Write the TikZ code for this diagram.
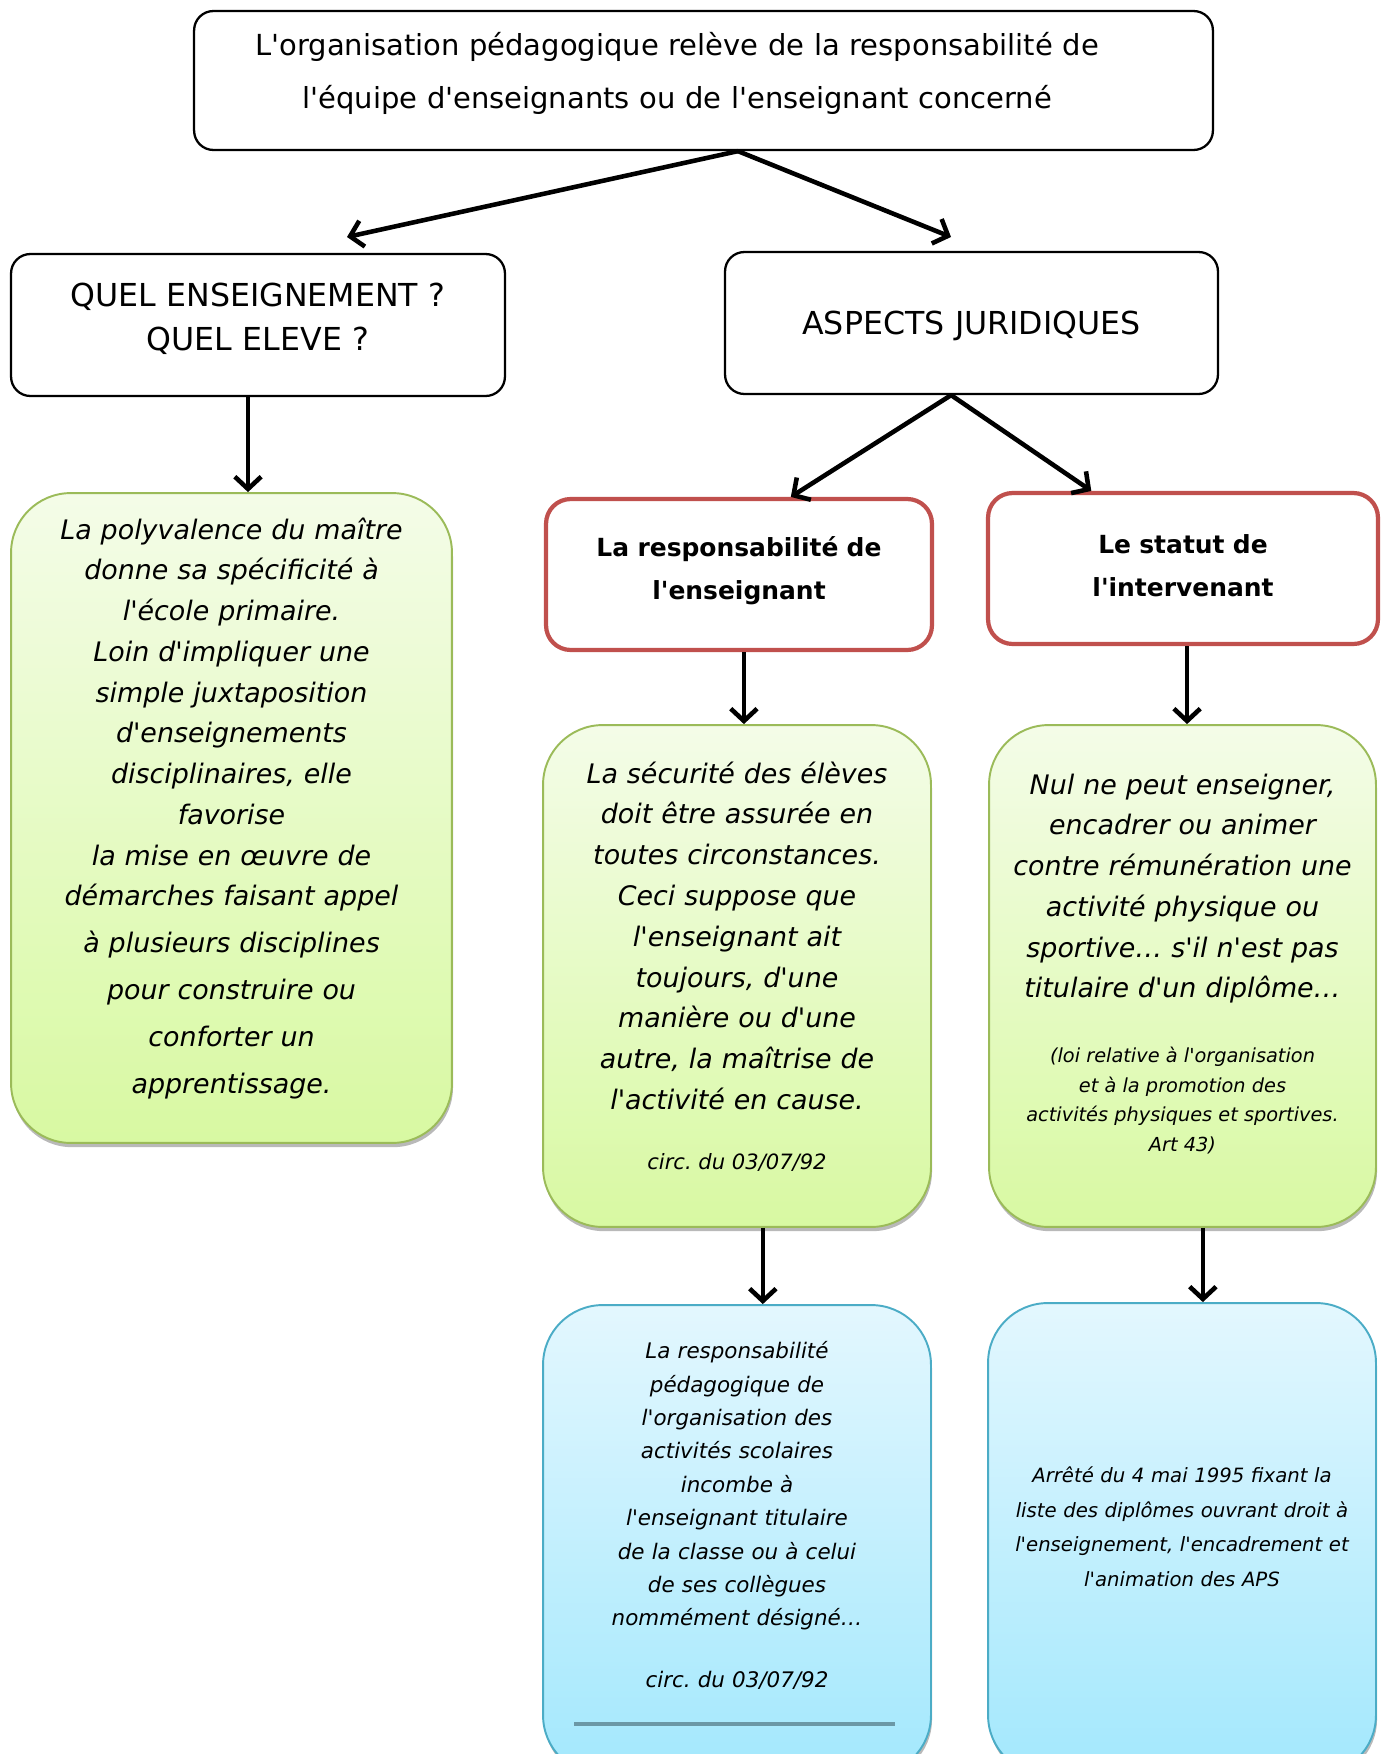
\documentclass[tikz,border=0pt]{standalone}
\usepackage{fontspec}
\setmainfont{DejaVu Sans}[Ligatures=TeXOff]
\usetikzlibrary{arrows.meta,shadows,calc}
\frenchspacing
\definecolor{redline}{HTML}{C0504D}
\definecolor{greenline}{HTML}{9BBB59}
\definecolor{greentop}{HTML}{F4FCE8}
\definecolor{greenbot}{HTML}{D8F9A2}
\definecolor{blueline}{HTML}{4BACC6}
\definecolor{bluetop}{HTML}{E3F7FE}
\definecolor{bluebot}{HTML}{A3E8FD}
\definecolor{rulecol}{HTML}{6B98A6}
\newcommand{\notefont}[2]{\fontsize{#1}{#2}\selectfont\spaceskip=.32em\xspaceskip=.32em\relax}
\newcommand{\padright}{\makebox[30pt]{}}
\tikzset{arrow/.style={draw,-{Straight Barb[length=7pt,width=15pt]},line width=2.6pt,#1}}
\tikzset{arrow/.default={black}}
\tikzset{sized/.style={align=center,inner sep=0pt,text width=#1,minimum width=#1}}
\tikzset{lift/.style={execute at end node={\par\kern#1}}}
\tikzset{plainbox/.style={draw,line width=1.3pt,rounded corners=11pt,font=\fontsize{16.5pt}{29.8pt}\selectfont}}
\tikzset{redbox/.style={draw=redline,line width=2.4pt,rounded corners=14pt,font=\bfseries\fontsize{14.2pt}{24.3pt}\selectfont}}
\tikzset{greenbox/.style={draw=greenline,line width=1.1pt,rounded corners=34pt,top color=greentop,bottom color=greenbot,
    drop shadow={shadow xshift=0.6pt,shadow yshift=-2.4pt,opacity=.5,fill=black!55},
    font=\itshape\fontsize{15.3pt}{23.2pt}\selectfont}}
\tikzset{bluebox/.style={draw=blueline,line width=1.1pt,rounded corners=34pt,top color=bluetop,bottom color=bluebot,
    drop shadow={shadow xshift=0.6pt,shadow yshift=-2.4pt,opacity=.5,fill=black!55},
    font=\itshape\fontsize{12.2pt}{19pt}\selectfont}}

\begin{document}
\begin{tikzpicture}[x=0.02cm,y=-0.02cm]
    \useasboundingbox (0,0) rectangle (1384,1754);
    % top level
    \node[plainbox,sized=20.38cm,minimum height=2.78cm,lift=8pt] (orga) at (703.5,80.5)
        {L'organisation pédagogique relève de la responsabilité de\padright\\l'équipe d'enseignants ou de l'enseignant concerné\padright};
    \node[plainbox,sized=9.88cm,minimum height=2.84cm,lift=7pt,font=\fontsize{18pt}{25.5pt}\selectfont] (quel) at (258,325)
        {QUEL ENSEIGNEMENT ?\\QUEL ELEVE ?};
    \node[plainbox,sized=9.86cm,minimum height=2.84cm,lift=-6pt,font=\fontsize{18pt}{25.5pt}\selectfont] (aspects) at (971.5,323)
        {ASPECTS JURIDIQUES};
    \node[redbox,sized=7.72cm,minimum height=3.02cm,lift=4pt] (resp) at (739,574.5) {La responsabilité de\\l'enseignant};
    \node[redbox,sized=7.8cm,minimum height=3.02cm,lift=3pt] (statut) at (1183,568.5) {Le statut de\\l'intervenant};
    % green boxes
    \node[greenbox,sized=8.82cm,minimum height=13cm,lift=11pt] (poly) at (231.5,818)
        {La polyvalence du maître\\ donne sa spécificité à\\ l'école primaire.\\ Loin d'impliquer une\\ simple juxtaposition\\
         d'enseignements\\ disciplinaires, elle\\ favorise\\ la mise en œuvre de\\ démarches faisant appel\\[3.5pt]
         à plusieurs disciplines\\[3.5pt] pour construire ou\\[3.5pt] conforter un\\[3.5pt] apprentissage.};
    \node[greenbox,sized=7.76cm,minimum height=10.04cm,lift=11pt] (secu) at (737,976)
        {La sécurité des élèves\\ doit être assurée en\\ toutes circonstances.\\ Ceci suppose que\\ l'enseignant ait\\
         toujours, d'une\\ manière ou d'une\\ autre, la maîtrise de\\ l'activité en cause.\par\vspace{17pt}
         {\notefont{12pt}{17pt}circ. du 03/07/92\par}};
    \node[greenbox,sized=7.74cm,minimum height=10.04cm,lift=14pt] (nul) at (1182.5,976)
        {Nul ne peut enseigner,\\ encadrer ou animer\\ contre rémunération une\\ activité physique ou\\
         sportive… s'il n'est pas\\ titulaire d'un diplôme…\par\vspace{20pt}
         {\notefont{11pt}{16.8pt}(loi relative à l'organisation\\ et à la promotion des\\
         activités physiques et sportives.\\ Art 43)\par}};
    % blue boxes
    \node[bluebox,sized=7.76cm,minimum height=9.4cm,lift=28pt] (pedago) at (737,1540)
        {La responsabilité\\ pédagogique de\\ l'organisation des\\ activités scolaires\\ incombe à\\
         l'enseignant titulaire\\ de la classe ou à celui\\ de ses collègues\\ nommément désigné…\par\vspace{16pt}
         circ. du 03/07/92\par};
    \node[bluebox,sized=7.76cm,minimum height=9.44cm,lift=14pt,font=\itshape\fontsize{11.2pt}{19.7pt}\selectfont] (arrete) at (1182,1539)
        {Arrêté du 4 mai 1995 fixant la\\ liste des diplômes ouvrant droit à\\ l'enseignement, l'encadrement et\\ l'animation des APS};
    \draw[rulecol,line width=2.3pt] (574,1724) -- (895,1724);
    % arrows
    \coordinate (qin) at (347,237);
    \coordinate (ain) at (951,237);
    \path[arrow] ($(orga.south)+(19.6pt,0)$) -- (qin);
    \path[arrow] ($(orga.south)+(19.6pt,0)$) -- (ain);
    \path[arrow] ($(aspects.south)+(-11.6pt,0)$) -- ($(resp.north)+(29.5pt,0)$);
    \path[arrow] ($(aspects.south)+(-11.6pt,0)$) -- ($(statut.north)+(-52.2pt,0)$);
    \foreach \from/\to/\dx in {quel/poly/-5.7pt, resp/secu/2.8pt, statut/nul/2.3pt, secu/pedago/14.7pt, nul/arrete/11.6pt}{
        \path[arrow] ($(\from.south)+(\dx,0)$) -- ($(\from.south |- \to.north)+(\dx,0)$);
    }
\end{tikzpicture}
\end{document}
